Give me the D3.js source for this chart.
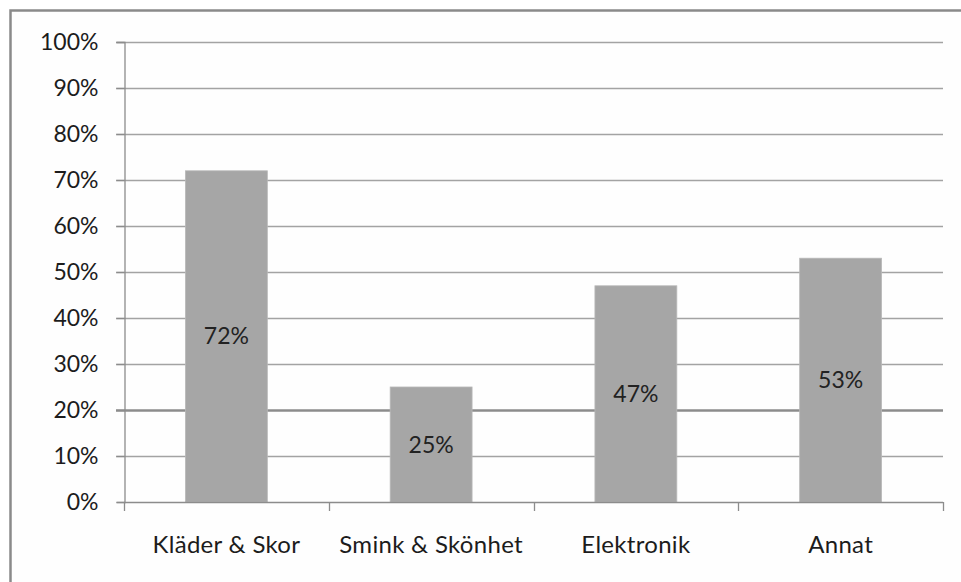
<!DOCTYPE html>
<html>
<head>
<meta charset="utf-8">
<script src="https://cdn.jsdelivr.net/npm/d3@7"></script>
<style>
  html, body { margin: 0; padding: 0; background: #ffffff; }
  svg { display: block; }
  text { font-family: Lato, "Open Sans", sans-serif; }
</style>
</head>
<body>
<svg id="chart" width="961" height="582"></svg>
<script>
const categories = ["Kläder & Skor", "Smink & Skönhet", "Elektronik", "Annat"];
const values = [0.72, 0.25, 0.47, 0.53];
const yTicks = [0, 0.1, 0.2, 0.3, 0.4, 0.5, 0.6, 0.7, 0.8, 0.9, 1.0];

const svg = d3.select("#chart");
const plot = { left: 124, right: 943, top: 42, bottom: 502 };

// outer frame (extends beyond the visible picture on right/bottom)
svg.append("rect")
  .attr("x", 10.5).attr("y", 10.5)
  .attr("width", 1000).attr("height", 1000)
  .attr("fill", "#fefefe")
  .attr("stroke", "#8a8a8a").attr("stroke-width", 2.5);

const y = d3.scaleLinear().domain([0, 1]).range([plot.bottom, plot.top]);
const x = d3.scaleBand().domain(categories)
  .range([plot.left, plot.right])
  .paddingInner(0.6).paddingOuter(0.3);
const step = x.step();

// gridlines
svg.append("g").selectAll("line").data(yTicks.filter(d => d > 0)).join("line")
  .attr("x1", plot.left - 8).attr("x2", plot.right)
  .attr("y1", d => Math.round(y(d)) + 0.5).attr("y2", d => Math.round(y(d)) + 0.5)
  .attr("stroke", d => Math.abs(d - 0.2) < 1e-9 ? "#8c8c8c" : "#a3a3a3")
  .attr("stroke-width", d => Math.abs(d - 0.2) < 1e-9 ? 2.5 : 1.3);

// bars
svg.append("g").selectAll("rect").data(values).join("rect")
  .attr("x", (d, i) => x(categories[i]))
  .attr("width", x.bandwidth())
  .attr("y", d => y(d))
  .attr("height", d => y(0) - y(d))
  .attr("fill", "#a6a6a6")
  .attr("stroke", "#b8b8b8").attr("stroke-width", 0.8);

// y axis line + ticks
const yAxis = d3.axisLeft(y).tickValues(yTicks).tickFormat(d3.format(".0%"))
  .tickSize(8).tickPadding(18);
const gy = svg.append("g").attr("transform", `translate(${plot.left + 0.5},0)`).call(yAxis);
gy.select(".domain").attr("stroke", "#8c8c8c").attr("stroke-width", 1.3);
gy.selectAll(".tick line").attr("stroke", "#8c8c8c").attr("stroke-width", 1.3);
gy.selectAll(".tick text").attr("font-size", 23).attr("fill", "#1c1c1c")
  .attr("font-family", "Lato, 'Open Sans', sans-serif");

// x axis line
svg.append("line")
  .attr("x1", plot.left).attr("x2", plot.right)
  .attr("y1", plot.bottom + 0.5).attr("y2", plot.bottom + 0.5)
  .attr("stroke", "#8c8c8c").attr("stroke-width", 1.3);

// x ticks at category boundaries
const bounds = categories.map(c => x(c) - step * x.paddingOuter());
bounds.push(plot.right);
svg.append("g").selectAll("line").data(bounds).join("line")
  .attr("x1", d => Math.round(d) + 0.5).attr("x2", d => Math.round(d) + 0.5)
  .attr("y1", plot.bottom).attr("y2", plot.bottom + 9)
  .attr("stroke", "#8c8c8c").attr("stroke-width", 1.3);

// category labels
svg.append("g").selectAll("text").data(categories).join("text")
  .attr("x", d => x(d) + x.bandwidth() / 2)
  .attr("y", 553)
  .attr("text-anchor", "middle")
  .attr("font-size", 24).attr("fill", "#1c1c1c")
  .attr("letter-spacing", 0.3)
  .text(d => d);

// value labels centred in bars
svg.append("g").selectAll("text").data(values).join("text")
  .attr("x", (d, i) => x(categories[i]) + x.bandwidth() / 2)
  .attr("y", d => (y(d) + y(0)) / 2)
  .attr("dy", "0.35em")
  .attr("text-anchor", "middle")
  .attr("font-size", 23).attr("fill", "#222")
  .text(d => d3.format(".0%")(d));
</script>
</body>
</html>
